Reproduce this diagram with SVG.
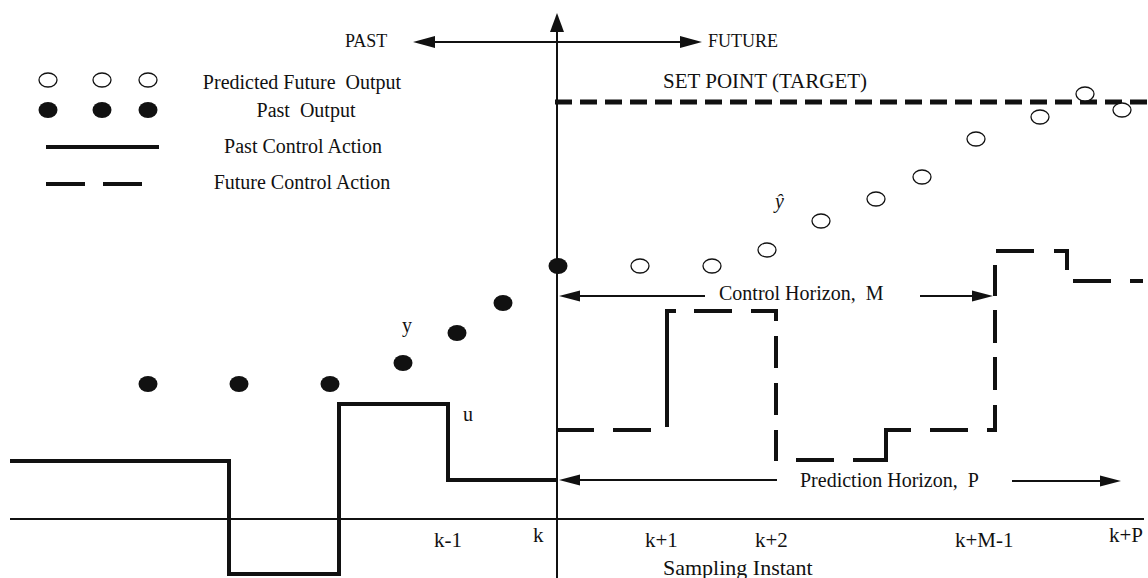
<svg xmlns="http://www.w3.org/2000/svg" width="1148" height="578" viewBox="0 0 1148 578">
<style>
text{font-family:"Liberation Serif","Times New Roman",serif;fill:#111}
.lg{font-size:20px}
.tk{font-size:21px}
.ln{fill:none;stroke:#111;stroke-width:2}
.thin{fill:none;stroke:#111;stroke-width:1.8}
.ctrl{fill:none;stroke:#111;stroke-width:4;stroke-linejoin:miter}
.sp{fill:none;stroke:#111;stroke-width:5;stroke-dasharray:17 8}
.ah{fill:#111}
.op{fill:#fff;stroke:#111;stroke-width:1.3}
.fl{fill:#111}
</style>
<rect width="1148" height="578" fill="#fff"/>

<g id="legend">
  <ellipse class="op" cx="48" cy="80" rx="9" ry="7"/>
  <ellipse class="op" cx="102" cy="80" rx="9" ry="7"/>
  <ellipse class="op" cx="148" cy="80" rx="9" ry="7"/>
  <ellipse class="fl" cx="48" cy="110" rx="9.5" ry="8"/>
  <ellipse class="fl" cx="102" cy="110" rx="9.5" ry="8"/>
  <ellipse class="fl" cx="148" cy="110" rx="9.5" ry="8"/>
  <path class="ctrl" d="M46 147 H159"/>
  <path class="ctrl" d="M46 184 H85 M103 184 H142"/>
  <text class="lg" x="302" y="89" text-anchor="middle" xml:space="preserve">Predicted Future  Output</text>
  <text class="lg" x="306" y="117" text-anchor="middle" xml:space="preserve">Past  Output</text>
  <text class="lg" x="303" y="153" text-anchor="middle">Past Control Action</text>
  <text class="lg" x="302" y="189" text-anchor="middle">Future Control Action</text>
</g>

<g id="axes">
  <path class="ln" d="M557 578 V30"/>
  <polygon class="ah" points="557,13 550,32 564,32"/>
  <path class="ln" d="M10 519 H1144"/>
</g>

<g id="past-future">
  <path class="ln" d="M433 42 H682"/>
  <polygon class="ah" points="413,42 435,36 435,48"/>
  <polygon class="ah" points="702,42 680,36 680,48"/>
  <text x="345" y="47" style="font-size:18px">PAST</text>
  <text x="708" y="47" style="font-size:18px">FUTURE</text>
</g>

<g id="set-point">
  <path class="sp" d="M555 102 H1148"/>
  <text x="663" y="88" style="font-size:21px">SET POINT (TARGET)</text>
</g>

<g id="past-output">
  <ellipse class="fl" cx="148" cy="384" rx="9.5" ry="8"/>
  <ellipse class="fl" cx="239" cy="384" rx="9.5" ry="8"/>
  <ellipse class="fl" cx="330" cy="384" rx="9.5" ry="8"/>
  <ellipse class="fl" cx="403" cy="363" rx="9.5" ry="8"/>
  <ellipse class="fl" cx="457" cy="333" rx="9.5" ry="8"/>
  <ellipse class="fl" cx="503" cy="303" rx="9.5" ry="8"/>
  <ellipse class="fl" cx="558" cy="266" rx="9.5" ry="8"/>
  <text class="lg" x="402" y="332">y</text>
</g>

<g id="predicted-output">
  <ellipse class="op" cx="640" cy="266" rx="9" ry="7"/>
  <ellipse class="op" cx="712" cy="266" rx="9" ry="7"/>
  <ellipse class="op" cx="767" cy="250" rx="9" ry="7"/>
  <ellipse class="op" cx="821" cy="221" rx="9" ry="7"/>
  <ellipse class="op" cx="876" cy="199" rx="9" ry="7"/>
  <ellipse class="op" cx="922" cy="177" rx="9" ry="7"/>
  <ellipse class="op" cx="976" cy="139" rx="9" ry="7"/>
  <ellipse class="op" cx="1040" cy="117" rx="9" ry="7"/>
  <ellipse class="op" cx="1085" cy="94" rx="9" ry="7"/>
  <ellipse class="op" cx="1122" cy="110" rx="9" ry="7"/>
  <text class="lg" x="775" y="208" style="font-style:italic">ŷ</text>
</g>

<g id="past-control">
  <path class="ctrl" d="M10 461 H229 V574 H339 V404 H448 V480 H557"/>
  <text class="lg" x="463" y="421">u</text>
</g>

<g id="future-control">
  <path class="ctrl" d="M557 430 H594 M613 430 H651 M667 427 V311 H676 M694 311 H732 M751 311 H776 V321 M776 336 V368 M776 383 V415 M776 430 V461 M796 460 H834 M853 460 H886 V430 H911 M930 430 H968 M987 430 H995 V405 M995 390 V357 M995 343 V310 M995 296 V265 M996 251 H1034 M1054 251 H1067 V270 M1073 281 H1111 M1130 281 H1143"/>
</g>

<g id="connectors">
  <path class="thin" d="M578 296 H705 M920 296 H974"/>
  <polygon class="ah" points="559,296 580,290.5 580,301.5"/>
  <polygon class="ah" points="993,296 972,290.5 972,301.5"/>
  <path class="thin" d="M578 480 H777 M1012 481 H1102"/>
  <polygon class="ah" points="559,480 580,474.5 580,485.5"/>
  <polygon class="ah" points="1121,481 1100,475.5 1100,486.5"/>
</g>

<g id="horizon-labels">
  <text class="lg" x="719" y="300" xml:space="preserve">Control Horizon,  M</text>
  <text class="lg" x="800" y="487" xml:space="preserve">Prediction Horizon,  P</text>
</g>

<g id="ticks">
  <text class="tk" x="434" y="547">k-1</text>
  <text class="tk" x="533" y="542">k</text>
  <text class="tk" x="645" y="547">k+1</text>
  <text class="tk" x="755" y="547">k+2</text>
  <text class="tk" x="955" y="547">k+M-1</text>
  <text class="tk" x="1109" y="542">k+P</text>
  <text x="663" y="575" style="font-size:22px">Sampling Instant</text>
</g>
</svg>
